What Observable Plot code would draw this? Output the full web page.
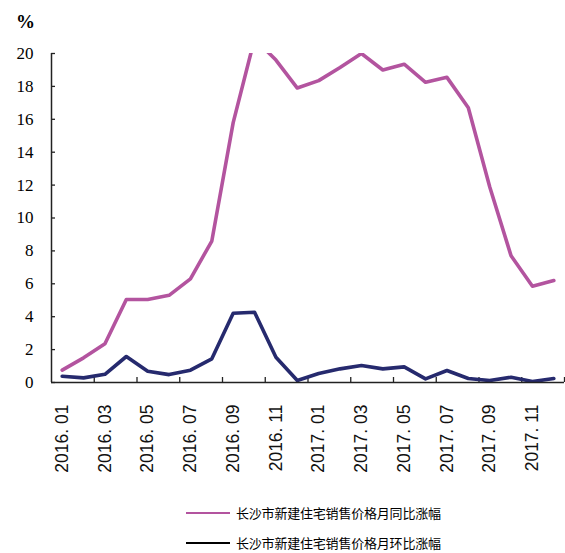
<!DOCTYPE html>
<html>
<head>
<meta charset="utf-8">
<script src="https://cdn.jsdelivr.net/npm/d3@7"></script>
<script src="https://cdn.jsdelivr.net/npm/@observablehq/plot@0.6"></script>
<style>
  html, body { margin: 0; padding: 0; background: #fff; }
  #wrap { width: 565px; height: 553px; overflow: hidden; position: relative; }
  .row { display: flex; align-items: center; padding-left: 186px; }
  .row.r0 { height: 35px; }
  .row.r1 { height: 26px; }
  .sw { display: inline-block; width: 44px; margin-right: 6px; }
  .lt { font-family: "Noto Sans CJK SC", sans-serif; font-size: 13px; line-height: 14px; color: #000; letter-spacing: -0.2px; }
  .ylab text { font-family: "Liberation Serif", "Times New Roman", "DejaVu Serif", serif !important; }
  .xlab text { font-family: "Liberation Sans", "DejaVu Sans", sans-serif !important; }
</style>
</head>
<body>
<div id="wrap"><div id="chart"></div><div id="legend"></div></div>
<script>
const months = ["2016. 01","2016. 02","2016. 03","2016. 04","2016. 05","2016. 06","2016. 07","2016. 08","2016. 09","2016. 10","2016. 11","2016. 12",
                "2017. 01","2017. 02","2017. 03","2017. 04","2017. 05","2017. 06","2017. 07","2017. 08","2017. 09","2017. 10","2017. 11","2017. 12"];
const yoy = [0.75, 1.5, 2.35, 5.05, 5.05, 5.3, 6.3, 8.6, 15.8, 20.9, 19.6, 17.9,
             18.35, 19.15, 20.0, 19.0, 19.35, 18.25, 18.55, 16.7, 11.9, 7.7, 5.85, 6.2];
const mom = [0.38, 0.28, 0.5, 1.58, 0.68, 0.48, 0.75, 1.44, 4.21, 4.27, 1.54, 0.12,
             0.55, 0.83, 1.03, 0.83, 0.95, 0.22, 0.73, 0.24, 0.12, 0.32, 0.06, 0.24];
const yTicks = [0, 2, 4, 6, 8, 10, 12, 14, 16, 18, 20];
const seriesNames = ["长沙市新建住宅销售价格月同比涨幅", "长沙市新建住宅销售价格月环比涨幅"];
const yUnit = "%";

const colorYoy = "#B3549F";
const colorMom = "#262A6E";

const idx = d3.range(months.length);
const data = idx.map(i => ({i, yoy: yoy[i], mom: mom[i]}));
const labelIdx = idx.filter(i => i % 2 === 0);
const boundaries = idx.filter(i => i % 2 === 1).map(i => i + 0.5);

const chart = Plot.plot({
  width: 565,
  height: 495,
  marginLeft: 51,
  marginRight: 1,
  marginTop: 53,
  marginBottom: 113,
  x: {type: "linear", domain: [-0.5, months.length - 0.5], axis: null},
  y: {domain: [0, 20], axis: null},
  style: {background: "#fff", color: "#000", overflow: "visible", fontFamily: "Liberation Serif"},
  marks: [
    Plot.axisY(yTicks, {tickSize: 0, tickPadding: 18, fontSize: 17, fill: "#000", label: null, className: "ylab"}),
    Plot.axisX(labelIdx, {tickSize: 0, tickPadding: 22, tickRotate: -90, tickFormat: i => months[i],
                          fontSize: 17.5, fill: "#111", label: null, className: "xlab"}),
    Plot.ruleY(yTicks, {x1: -0.5, x2: -0.5, insetRight: -4, stroke: "#222", strokeWidth: 1.3}),
    Plot.ruleX(boundaries, {y1: 0, y2: 0, insetTop: -5, stroke: "#222", strokeWidth: 1.3}),
    Plot.line(data, {x: "i", y: "yoy", stroke: colorYoy, strokeWidth: 3.6, clip: true}),
    Plot.line(data, {x: "i", y: "mom", stroke: colorMom, strokeWidth: 3.6, clip: true}),
    Plot.ruleX([-0.5], {stroke: "#222", strokeWidth: 1.5}),
    Plot.ruleY([0], {stroke: "#222", strokeWidth: 1.5}),
    Plot.text([yUnit], {frameAnchor: "top-left", dx: -26, dy: -32, textAnchor: "middle", lineAnchor: "middle",
                        fontSize: 19, fontWeight: "bold", fill: "#000", className: "ylab"})
  ]
});
document.getElementById("chart").appendChild(chart);

const legend = document.getElementById("legend");
const swatches = [{color: colorYoy, h: 2}, {color: "#000", h: 1.5}];
seriesNames.forEach((name, k) => {
  const row = document.createElement("div");
  row.className = "row r" + k;
  const sw = document.createElement("span");
  sw.className = "sw";
  sw.style.background = swatches[k].color;
  sw.style.height = swatches[k].h + "px";
  const t = document.createElement("span");
  t.className = "lt";
  t.textContent = name;
  row.appendChild(sw);
  row.appendChild(t);
  legend.appendChild(row);
});
</script>
</body>
</html>
